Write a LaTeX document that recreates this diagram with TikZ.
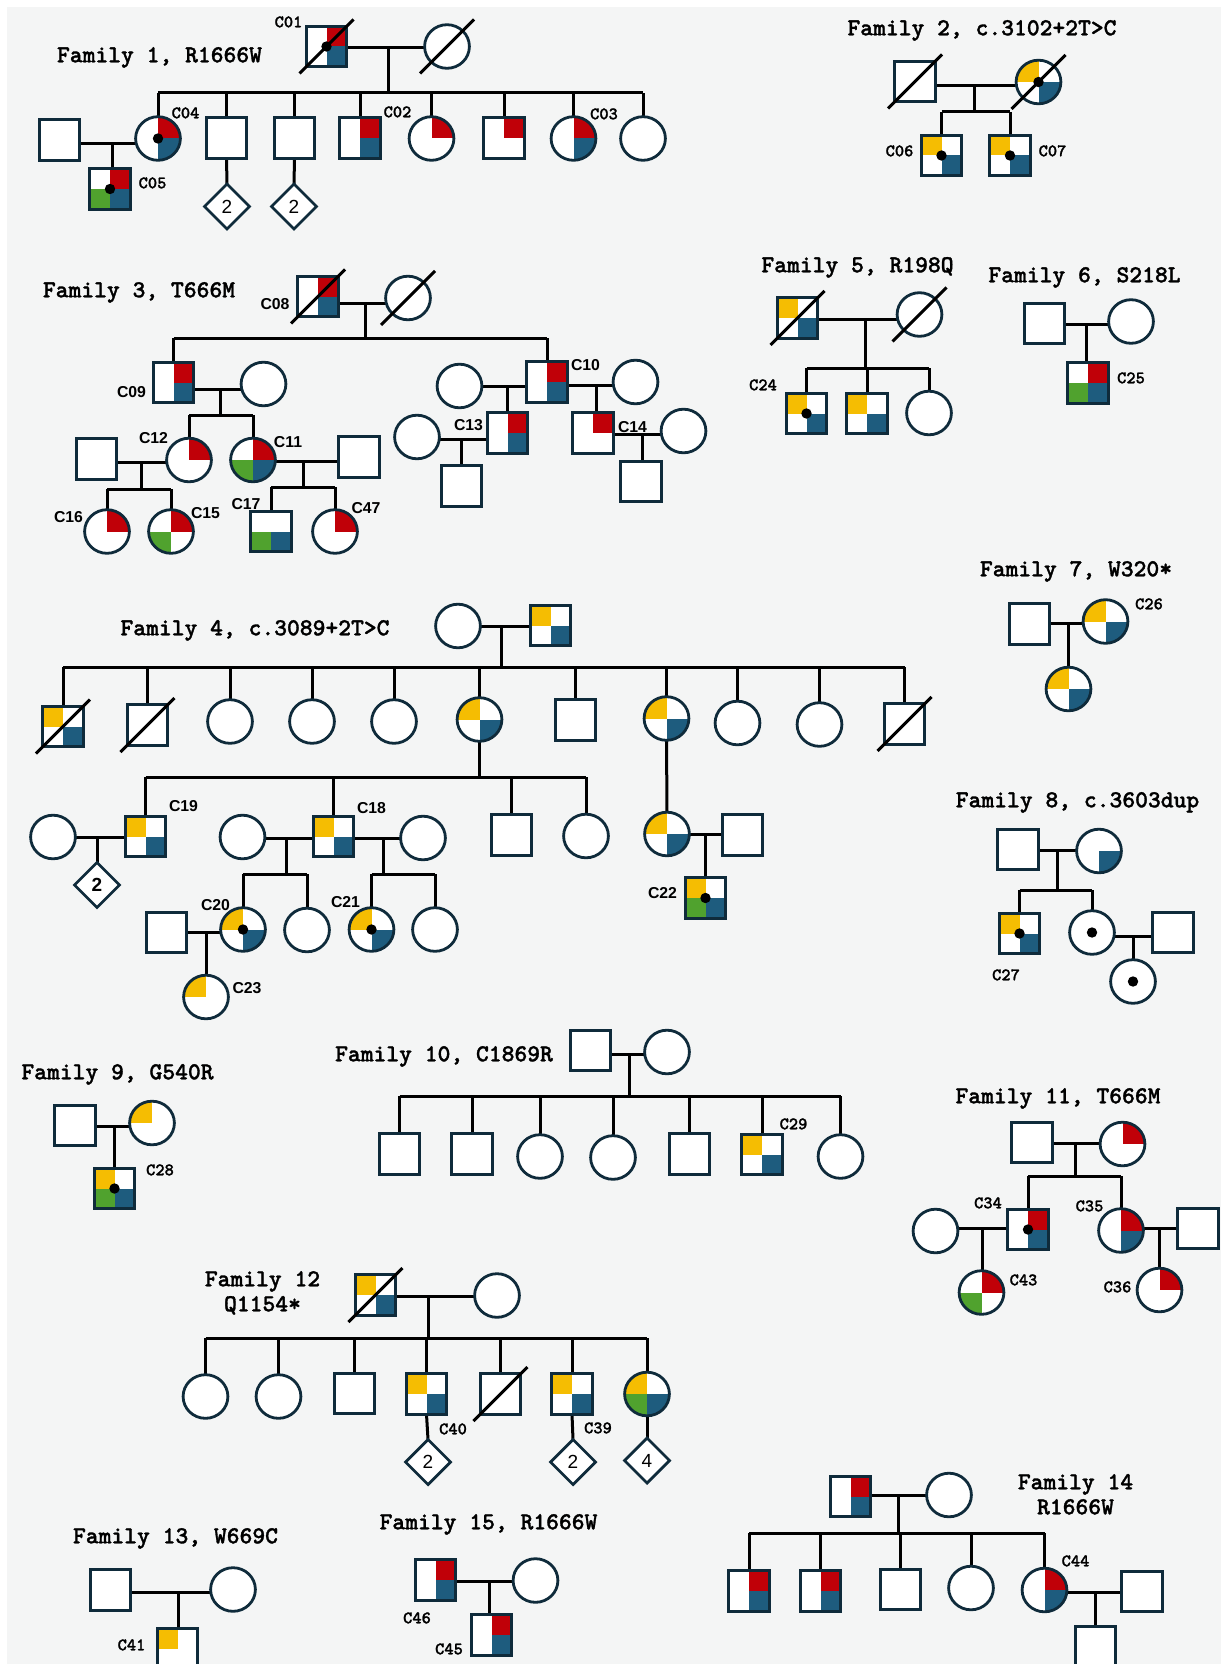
\documentclass[tikz,border=0pt]{standalone}
\usepackage{fontspec}
\usetikzlibrary{shapes.geometric,calc}
\newfontfamily\sansf{Liberation Sans}
\newfontfamily\monof{lmmonolt10-bold}[Extension=.otf, FakeBold=1.3]
\definecolor{cY}{HTML}{F5BD02}
\definecolor{cR}{HTML}{C00008}
\definecolor{cB}{HTML}{1E5C7E}
\definecolor{cG}{HTML}{50A22E}
\definecolor{ol}{HTML}{0F2B3B}
\definecolor{bgc}{HTML}{F4F5F5}
\pgfdeclarelayer{back}
\pgfdeclarelayer{links}
\pgfsetlayers{back,links,main}
\newcommand\dotat[1]{\fill[black] (#1.center) circle (2.6pt);}
\newcommand\dead[1]{\draw[ln] ($(#1.center)+(-27,27)$) -- ($(#1.center)+(27,-27)$);}
\newcommand\mar[3]{\draw[ln] (#1.east |- #3) -- (#2.west |- #3);}
\newcommand\sibline[3]{\draw[ln] (#2.north |- #1) -- (#3.north |- #1);}
\newcommand\sibs[2]{\foreach \ch in {#2}{\draw[ln] (\ch.north) -- (\ch.north |- #1);}}
\newcommand\dropto[2]{\draw[ln] (#1) -- (#1 |- #2.north);}
\tikzset{
  ln/.style={line width=1.5pt, black},
  sym/.style={draw=ol, line width=1.4pt, fill=white, inner sep=0pt, outer sep=0pt},
  sqr/.style={sym, rectangle, minimum size=20.2pt},
  cir/.style={sym, ellipse, minimum width=22.4pt, minimum height=21.8pt},
  dmd/.style={sym, diamond, minimum size=22.5pt, font=\sansf\fontsize{9.5}{10}\selectfont},
  q/.style n args={4}{path picture={
    \fill[#1] (path picture bounding box.center) rectangle (path picture bounding box.north west);
    \fill[#2] (path picture bounding box.center) rectangle (path picture bounding box.north east);
    \fill[#3] (path picture bounding box.center) rectangle (path picture bounding box.south west);
    \fill[#4] (path picture bounding box.center) rectangle (path picture bounding box.south east);}},
  qYB/.style={q={cY}{white}{white}{cB}},
  qRB/.style={q={white}{cR}{white}{cB}},
  qR/.style={q={white}{cR}{white}{white}},
  qRGB/.style={q={white}{cR}{cG}{cB}},
  qRG/.style={q={white}{cR}{cG}{white}},
  qGB/.style={q={white}{white}{cG}{cB}},
  qYGB/.style={q={cY}{white}{cG}{cB}},
  qY/.style={q={cY}{white}{white}{white}},
  qB/.style={q={white}{white}{white}{cB}},
  tm/.style={font=\monof\fontsize{12.2}{14}\selectfont, inner sep=0pt, text height=7.3pt, text depth=0pt},
  lm/.style={font=\monof\fontsize{8.8}{10}\selectfont, inner sep=0pt, text height=5.3pt, text depth=0pt},
  ls/.style={font=\sansf\bfseries\fontsize{7.9}{9}\selectfont, inner sep=0pt, text height=5.7pt, text depth=0pt},
}
\begin{document}
\begin{tikzpicture}[x=0.5pt, y=-0.5pt]
\useasboundingbox (0,0) rectangle (1223,1664);
\begin{pgfonlayer}{back}
\fill[white] (0,0) rectangle (1223,1664);
\fill[bgc] (7,7) rectangle (1221,1664);
\end{pgfonlayer}

% ---------------- Family 1
\node[tm] (t1) at (159.5,55) {Family 1, R1666W};
\node[sqr,qRB] (f1F) at (326.5,46.5) {};
\node[cir] (f1M) at (447,46.5) {};
\node[cir,qRB] (c04) at (158,138.5) {};
\node[sqr] (f1s2) at (226.5,138) {};
\node[sqr] (f1s3) at (294.5,138) {};
\node[sqr,qRB] (c02) at (360,138) {};
\node[cir,qR] (f1s5) at (431.5,138.5) {};
\node[sqr,qR] (f1s6) at (504,138) {};
\node[cir,qRB] (c03) at (573.5,138.5) {};
\node[cir] (f1s8) at (643,138.5) {};
\node[sqr] (f1sp) at (59.5,140) {};
\node[sqr,qRGB] (c05) at (110,189) {};
\node[dmd] (f1d1) at (227,206.5) {2};
\node[dmd] (f1d2) at (294,206.5) {2};
\dead{f1F}\dead{f1M}\dotat{f1F}\dotat{c04}\dotat{c05}
\node[lm] (l01) at (288.5,22) {C01};
\node[lm] (l04) at (185.5,113) {C04};
\node[lm] (l02) at (397.5,112) {C02};
\node[lm] (l03) at (604,114) {C03};
\node[lm] (l05) at (152.5,183) {C05};
\coordinate (j1) at (388,47.5); \coordinate (s1) at (388,93);
\coordinate (j1b) at (112,144);

% ---------------- Family 2
\node[tm] (t2) at (982,28) {Family 2, c.3102+2T>C};
\node[sqr] (f2F) at (915,81.5) {};
\node[cir,qYB] (f2M) at (1038.5,82) {};
\node[sqr,qYB] (c06) at (941.5,155.5) {};
\node[sqr,qYB] (c07) at (1010,155.5) {};
\dead{f2F}\dead{f2M}\dotat{f2M}\dotat{c06}\dotat{c07}
\node[lm] (l06) at (899.5,151) {C06};
\node[lm] (l07) at (1052.5,151) {C07};
\coordinate (j2) at (974,86); \coordinate (s2) at (974,112);

% ---------------- Family 3
\node[tm] (t3) at (139,290) {Family 3, T666M};
\node[sqr,qRB] (c08) at (318,296.5) {};
\node[cir] (f3M) at (408,298) {};
\node[sqr,qRB] (c09) at (173.5,382.5) {};
\node[cir] (f3w9) at (263.5,384) {};
\node[cir,qR] (c12) at (189,460) {};
\node[cir,qRGB] (c11) at (253,460) {};
\node[sqr] (f3h12) at (96.5,459) {};
\node[cir,qR] (c16) at (107,531.5) {};
\node[cir,qRG] (c15) at (171,531.5) {};
\node[sqr] (f3h11) at (359,457) {};
\node[sqr,qGB] (c17) at (271,531.5) {};
\node[cir,qR] (c47) at (335,531.5) {};
\node[sqr,qRB] (c10) at (547,382) {};
\node[cir] (f3w10a) at (459.5,386) {};
\node[cir] (f3w10b) at (635.5,382) {};
\node[sqr,qRB] (c13) at (507.5,433) {};
\node[sqr,qR] (c14) at (593,433) {};
\node[cir] (f3w13) at (417,437) {};
\node[sqr] (f3k13) at (461.5,486) {};
\node[cir] (f3w14) at (683.5,431) {};
\node[sqr] (f3k14) at (641,481.5) {};
\dead{c08}\dead{f3M}
\node[ls] (l08) at (275,304) {C08};
\node[ls] (l09) at (131.5,392) {C09};
\node[ls] (l10) at (585.5,365) {C10};
\node[ls] (l12) at (153.5,438) {C12};
\node[ls] (l11) at (288,442) {C11};
\node[ls] (l16) at (68.5,517) {C16};
\node[ls] (l15) at (205.5,513) {C15};
\node[ls] (l17) at (246,504) {C17};
\node[ls] (l47) at (366,508) {C47};
\node[ls] (l13) at (468.5,425) {C13};
\node[ls] (l14) at (632.5,427) {C14};
\coordinate (j3) at (365,303); \coordinate (s3) at (365,338);
\coordinate (j3b) at (220,389); \coordinate (s3b) at (220,415);
\coordinate (j3c) at (141,462); \coordinate (s3c) at (141,489);
\coordinate (j3d) at (303,461); \coordinate (s3d) at (303,487);
\coordinate (j3e) at (507,386); \coordinate (j3f) at (596,385);
\coordinate (j3g) at (461,439); \coordinate (j3h) at (642,434);

% ---------------- Family 5
\node[tm] (t5) at (857.5,265) {Family 5, R198Q};
\node[sqr,qYB] (f5F) at (797.5,318) {};
\node[cir] (f5M) at (919.5,314.5) {};
\node[sqr,qYB] (c24) at (806.5,413.5) {};
\node[sqr,qYB] (f5k2) at (867,413.5) {};
\node[cir] (f5k3) at (929,413) {};
\dead{f5F}\dead{f5M}\dotat{c24}
\node[lm] (l24) at (763,385) {C24};
\coordinate (j5) at (865,319); \coordinate (s5) at (865,368);

% ---------------- Family 6
\node[tm] (t6) at (1084.5,275) {Family 6, S218L};
\node[sqr] (f6F) at (1044.5,323.5) {};
\node[cir] (f6M) at (1131,321.5) {};
\node[sqr,qRGB] (c25) at (1088,383) {};
\node[lm] (l25) at (1131,378) {C25};
\coordinate (j6) at (1086,324);

% ---------------- Family 7
\node[tm] (t7) at (1076,569) {Family 7, W320*};
\node[sqr] (f7F) at (1029.5,624) {};
\node[cir,qYB] (c26) at (1105.5,621.5) {};
\node[cir,qYB] (f7k) at (1068.5,689) {};
\node[lm] (l26) at (1149,604) {C26};
\coordinate (j7) at (1068,623);

% ---------------- Family 4
\node[tm] (t4) at (255,628) {Family 4, c.3089+2T>C};
\node[cir] (f4M) at (458,626) {};
\node[sqr,qYB] (f4F) at (550.5,625.5) {};
\node[sqr,qYB] (f4k1) at (63,726.5) {};
\node[sqr] (f4k2) at (147.5,725) {};
\node[cir] (f4k3) at (230,721.5) {};
\node[cir] (f4k4) at (312,721.5) {};
\node[cir] (f4k5) at (394,721.5) {};
\node[cir,qYB] (f4k6) at (479.5,719.5) {};
\node[sqr] (f4k7) at (575.5,720) {};
\node[cir,qYB] (f4k8) at (666.5,718.5) {};
\node[cir] (f4k9) at (737.5,723) {};
\node[cir] (f4k10) at (819.5,724.5) {};
\node[sqr] (f4k11) at (904.5,724) {};
\dead{f4k1}\dead{f4k2}\dead{f4k11}
\node[sqr,qYB] (c19) at (145.5,836.5) {};
\node[sqr,qYB] (c18) at (333.5,836.5) {};
\node[sqr] (f4g3) at (511.5,835) {};
\node[cir] (f4g4) at (586,836) {};
\node[cir] (f4w19) at (53,837) {};
\node[dmd] (f4d) at (97,885) {\bfseries 2};
\node[cir] (f4w18a) at (242.5,837) {};
\node[cir] (f4w18b) at (423,838) {};
\node[cir,qYB] (c20) at (243,929.5) {};
\node[cir] (f4h2) at (307,930) {};
\node[cir,qYB] (c21) at (371.5,929.5) {};
\node[cir] (f4h4) at (435,929.5) {};
\node[sqr] (f4s20) at (166.5,932.5) {};
\node[cir,qY] (c23) at (206,997) {};
\node[cir,qYB] (f4m8) at (667,834) {};
\node[sqr] (f4s8) at (742.5,835) {};
\node[sqr,qYGB] (c22) at (705.5,898) {};
\dotat{c20}\dotat{c21}\dotat{c22}
\node[ls] (l19) at (183.5,806) {C19};
\node[ls] (l18) at (371.5,808) {C18};
\node[ls] (l20) at (215.5,905) {C20};
\node[ls] (l21) at (345.5,902) {C21};
\node[ls] (l23) at (247,988) {C23};
\node[ls] (l22) at (662.5,893) {C22};
\coordinate (j4) at (501,626); \coordinate (s4) at (501,667);
\coordinate (s4b) at (479,777);
\coordinate (j4c) at (97,837);
\coordinate (j4d) at (286,838); \coordinate (s4d) at (286,874);
\coordinate (j4e) at (383,838); \coordinate (s4e) at (383,874);
\coordinate (j4f) at (206,932);
\coordinate (j4g) at (705,834);

% ---------------- Family 8
\node[tm] (t8) at (1077.5,800) {Family 8, c.3603dup};
\node[sqr] (f8F) at (1018,849.5) {};
\node[cir,qB] (f8M) at (1099,851) {};
\node[sqr,qYB] (c27) at (1019.5,933.5) {};
\node[cir] (f8d) at (1092,932.5) {};
\node[sqr] (f8ds) at (1173,932.5) {};
\node[cir] (f8g) at (1133,981.5) {};
\dotat{c27}\dotat{f8d}\dotat{f8g}
\node[lm] (l27) at (1006,975) {C27};
\coordinate (j8) at (1057,850); \coordinate (s8) at (1057,890);
\coordinate (j8b) at (1133,936);

% ---------------- Family 9
\node[tm] (t9) at (117.5,1072) {Family 9, G540R};
\node[sqr] (f9F) at (75,1125.5) {};
\node[cir,qY] (f9M) at (152,1123) {};
\node[sqr,qYGB] (c28) at (114.5,1188.5) {};
\dotat{c28}
\node[lm] (l28) at (160,1170) {C28};
\coordinate (j9) at (114,1126);

% ---------------- Family 10
\node[tm] (t10) at (444,1054) {Family 10, C1869R};
\node[sqr] (f10F) at (590.5,1050.5) {};
\node[cir] (f10M) at (667,1052) {};
\node[sqr] (f10k1) at (399.5,1154) {};
\node[sqr] (f10k2) at (472,1154) {};
\node[cir] (f10k3) at (540,1156.5) {};
\node[cir] (f10k4) at (613,1157.5) {};
\node[sqr] (f10k5) at (689.5,1154) {};
\node[sqr,qYB] (c29) at (762,1154.5) {};
\node[cir] (f10k7) at (840.5,1156.5) {};
\node[lm] (l29) at (793.5,1124) {C29};
\coordinate (j10) at (629,1054); \coordinate (s10) at (629,1096);

% ---------------- Family 11
\node[tm] (t11) at (1058,1096) {Family 11, T666M};
\node[sqr] (f11F) at (1032,1142.5) {};
\node[cir,qR] (f11M) at (1122.5,1144) {};
\node[sqr,qRB] (c34) at (1028,1229.5) {};
\node[cir,qRB] (c35) at (1121,1230.5) {};
\node[cir] (f11w34) at (935.5,1231) {};
\node[cir,qRG] (c43) at (981.5,1292.5) {};
\node[sqr] (f11h35) at (1198,1228.5) {};
\node[cir,qR] (c36) at (1159.5,1290) {};
\dotat{c34}
\node[lm] (l34) at (988,1203) {C34};
\node[lm] (l35) at (1089.5,1206) {C35};
\node[lm] (l43) at (1023.5,1280) {C43};
\node[lm] (l36) at (1117.5,1287) {C36};
\coordinate (j11) at (1075,1143); \coordinate (s11) at (1075,1176);
\coordinate (j11b) at (982,1228); \coordinate (j11c) at (1159,1228);

% ---------------- Family 12
\node[tm] (t12a) at (262.5,1279) {Family 12};
\node[tm] (t12b) at (262.5,1304) {Q1154*};
\node[sqr,qYB] (f12F) at (375.5,1295) {};
\node[cir] (f12M) at (497,1295.5) {};
\node[cir] (f12k1) at (205.5,1396.5) {};
\node[cir] (f12k2) at (278.5,1396.5) {};
\node[sqr] (f12k3) at (354.5,1393.5) {};
\node[sqr,qYB] (c40) at (426.5,1394) {};
\node[sqr] (f12k5) at (500.5,1394) {};
\node[sqr,qYB] (c39) at (572,1394) {};
\node[cir,qYGB] (f12k7) at (647,1394) {};
\node[dmd] (f12d1) at (428,1462) {2};
\node[dmd] (f12d2) at (573,1462) {2};
\node[dmd] (f12d3) at (647,1460.5) {4};
\dead{f12F}\dead{f12k5}
\node[lm] (l40) at (453,1429) {C40};
\node[lm] (l39) at (598,1428) {C39};
\coordinate (j12) at (428,1296); \coordinate (s12) at (428,1338);

% ---------------- Family 13
\node[tm] (t13) at (175.5,1536) {Family 13, W669C};
\node[sqr] (f13F) at (110.5,1590) {};
\node[cir] (f13M) at (233,1589.5) {};
\node[sqr,qY] (c41) at (177.5,1649) {};
\node[lm] (l41) at (131.5,1645) {C41};
\coordinate (j13) at (178,1592);

% ---------------- Family 15
\node[tm] (t15) at (488.5,1522) {Family 15, R1666W};
\node[sqr,qRB] (c46) at (435.5,1580) {};
\node[cir] (f15M) at (535.5,1580.5) {};
\node[sqr,qRB] (c45) at (491.5,1635) {};
\node[lm] (l46) at (417,1618) {C46};
\node[lm] (l45) at (449,1649) {C45};
\coordinate (j15) at (489,1581);

% ---------------- Family 14
\node[tm] (t14a) at (1075.5,1482) {Family 14};
\node[tm] (t14b) at (1075.5,1507) {R1666W};
\node[sqr,qRB] (f14F) at (850.5,1496.5) {};
\node[cir] (f14M) at (949,1495) {};
\node[sqr,qRB] (f14k1) at (749,1591) {};
\node[sqr,qRB] (f14k2) at (820.5,1591) {};
\node[sqr] (f14k3) at (900.5,1589.5) {};
\node[cir] (f14k4) at (971,1588) {};
\node[cir,qRB] (c44) at (1044.5,1590) {};
\node[sqr] (f14s44) at (1142,1591.5) {};
\node[sqr] (f14k) at (1095.5,1646.5) {};
\node[lm] (l44) at (1075.5,1561) {C44};
\coordinate (j14) at (898,1495); \coordinate (s14) at (898,1533);
\coordinate (j14b) at (1095,1592);

% ================= connectors
\begin{pgfonlayer}{links}
% F1
\mar{f1F}{f1M}{j1} \draw[ln] (j1) -- (s1);
\sibline{s1}{c04}{f1s8} \sibs{s1}{c04,f1s2,f1s3,c02,f1s5,f1s6,c03,f1s8}
\mar{f1sp}{c04}{j1b} \dropto{j1b}{c05}
\draw[ln] (f1s2.south) -- (f1d1.north);
\draw[ln] (f1s3.south) -- (f1d2.north);
% F2
\mar{f2F}{f2M}{j2} \draw[ln] (j2) -- (s2);
\sibline{s2}{c06}{c07} \sibs{s2}{c06,c07}
% F3
\mar{c08}{f3M}{j3} \draw[ln] (j3) -- (s3);
\sibline{s3}{c09}{c10} \sibs{s3}{c09,c10}
\mar{c09}{f3w9}{j3b} \draw[ln] (j3b) -- (s3b);
\sibline{s3b}{c12}{c11} \sibs{s3b}{c12,c11}
\mar{f3h12}{c12}{j3c} \draw[ln] (j3c) -- (s3c);
\sibline{s3c}{c16}{c15} \sibs{s3c}{c16,c15}
\mar{c11}{f3h11}{j3d} \draw[ln] (j3d) -- (s3d);
\sibline{s3d}{c17}{c47} \sibs{s3d}{c17,c47}
\mar{f3w10a}{c10}{j3e} \dropto{j3e}{c13}
\mar{c10}{f3w10b}{j3f} \dropto{j3f}{c14}
\mar{f3w13}{c13}{j3g} \dropto{j3g}{f3k13}
\mar{c14}{f3w14}{j3h} \dropto{j3h}{f3k14}
% F5
\mar{f5F}{f5M}{j5} \draw[ln] (j5) -- (s5);
\sibline{s5}{c24}{f5k3} \sibs{s5}{c24,f5k2,f5k3}
% F6
\mar{f6F}{f6M}{j6} \dropto{j6}{c25}
% F7
\mar{f7F}{c26}{j7} \dropto{j7}{f7k}
% F4
\mar{f4M}{f4F}{j4} \draw[ln] (j4) -- (s4);
\sibline{s4}{f4k1}{f4k11} \sibs{s4}{f4k1,f4k2,f4k3,f4k4,f4k5,f4k6,f4k7,f4k8,f4k9,f4k10,f4k11}
\draw[ln] (f4k6.south) -- (f4k6.south |- s4b);
\sibline{s4b}{c19}{f4g4} \sibs{s4b}{c19,c18,f4g3,f4g4}
\mar{f4w19}{c19}{j4c} \dropto{j4c}{f4d}
\mar{f4w18a}{c18}{j4d} \draw[ln] (j4d) -- (s4d);
\sibline{s4d}{c20}{f4h2} \sibs{s4d}{c20,f4h2}
\mar{c18}{f4w18b}{j4e} \draw[ln] (j4e) -- (s4e);
\sibline{s4e}{c21}{f4h4} \sibs{s4e}{c21,f4h4}
\mar{f4s20}{c20}{j4f} \dropto{j4f}{c23}
\draw[ln] (f4k8.south) -- (f4m8.north);
\mar{f4m8}{f4s8}{j4g} \dropto{j4g}{c22}
% F8
\mar{f8F}{f8M}{j8} \draw[ln] (j8) -- (s8);
\sibline{s8}{c27}{f8d} \sibs{s8}{c27,f8d}
\mar{f8d}{f8ds}{j8b} \dropto{j8b}{f8g}
% F9
\mar{f9F}{f9M}{j9} \dropto{j9}{c28}
% F10
\mar{f10F}{f10M}{j10} \draw[ln] (j10) -- (s10);
\sibline{s10}{f10k1}{f10k7} \sibs{s10}{f10k1,f10k2,f10k3,f10k4,f10k5,c29,f10k7}
% F11
\mar{f11F}{f11M}{j11} \draw[ln] (j11) -- (s11);
\sibline{s11}{c34}{c35} \sibs{s11}{c34,c35}
\mar{f11w34}{c34}{j11b} \dropto{j11b}{c43}
\mar{c35}{f11h35}{j11c} \dropto{j11c}{c36}
% F12
\mar{f12F}{f12M}{j12} \draw[ln] (j12) -- (s12);
\sibline{s12}{f12k1}{f12k7} \sibs{s12}{f12k1,f12k2,f12k3,c40,f12k5,c39,f12k7}
\draw[ln] (c40.south) -- (f12d1.north);
\draw[ln] (c39.south) -- (f12d2.north);
\draw[ln] (f12k7.south) -- (f12d3.north);
% F13
\mar{f13F}{f13M}{j13} \dropto{j13}{c41}
% F15
\mar{c46}{f15M}{j15} \dropto{j15}{c45}
% F14
\mar{f14F}{f14M}{j14} \draw[ln] (j14) -- (s14);
\sibline{s14}{f14k1}{c44} \sibs{s14}{f14k1,f14k2,f14k3,f14k4,c44}
\mar{c44}{f14s44}{j14b} \dropto{j14b}{f14k}
\end{pgfonlayer}
\end{tikzpicture}
\end{document}
